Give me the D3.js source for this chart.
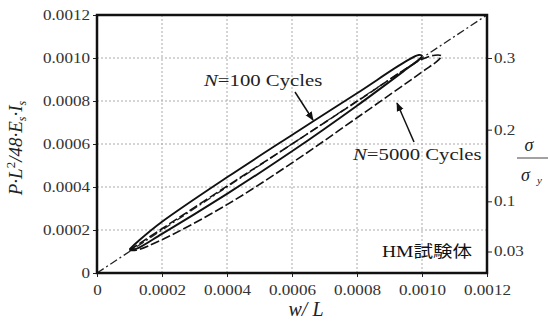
<!DOCTYPE html>
<html>
<head>
<meta charset="utf-8">
<script src="https://cdn.jsdelivr.net/npm/d3@7"></script>
<style>
  body { margin: 0; background: #fff; }
  text { font-family: "Liberation Serif", "Noto Sans CJK JP", serif; }
</style>
</head>
<body>
<div id="chart"></div>
<script>
// data
const xTicks = [0, 0.0002, 0.0004, 0.0006, 0.0008, 0.0010, 0.0012];
const yTicks = [0, 0.0002, 0.0004, 0.0006, 0.0008, 0.0010, 0.0012];
const ratioTicks = [0.03, 0.1, 0.2, 0.3];
const refLine = [[0, 0], [0.0012, 0.0012]];
// N=100 loop (solid): upper branch then lower branch back
const loop100 = [
  [0.0001, 0.00011], [0.00013, 0.000152], [0.0002, 0.000238], [0.0004, 0.000445],
  [0.0006, 0.000642], [0.0008, 0.000836], [0.00095, 0.000984], [0.00099, 0.001014],
  [0.001, 0.00101], [0.00099, 0.000992], [0.00095, 0.000946], [0.0008, 0.000778],
  [0.0006, 0.000566], [0.0004, 0.000368], [0.0002, 0.000182], [0.00012, 0.000112],
  [0.0001, 0.00011]
];
// N=5000 loop (dashed)
const loop5000 = [
  [0.0001, 0.000106], [0.0002, 0.000206], [0.0004, 0.000404], [0.0006, 0.0006],
  [0.0008, 0.000798], [0.001, 0.000994], [0.00104, 0.001013], [0.00106, 0.00101],
  [0.00105, 0.00099], [0.001, 0.000935], [0.0008, 0.000722], [0.0006, 0.000512],
  [0.0004, 0.000318], [0.0002, 0.000155], [0.00012, 0.000106], [0.0001, 0.000106]
];

const W = 550, H = 322;
const m = { top: 15, right: 63, bottom: 49, left: 97 };
const iw = W - m.left - m.right, ih = H - m.top - m.bottom;
const STRETCH = 1.22; // the source picture is widened horizontally

const svg = d3.select('#chart').append('svg').attr('width', W).attr('height', H);
const g = svg.append('g').attr('transform', `translate(${m.left},${m.top})`);

const x = d3.scaleLinear().domain([0, 0.0012]).range([0, iw]);
const y = d3.scaleLinear().domain([0, 0.0012]).range([ih, 0]);
const yr = d3.scaleLinear().domain([0, 0.36]).range([ih, 0]);

const fmt = d => d === 0 ? '0' : d3.format('.4f')(d);

function widen(sel) {
  sel.each(function () {
    const len = this.getComputedTextLength();
    d3.select(this).attr('textLength', len * STRETCH).attr('lengthAdjust', 'spacingAndGlyphs');
  });
}

// grid
g.selectAll('.gx').data(xTicks.slice(1, -1)).enter().append('line')
  .attr('x1', d => x(d)).attr('x2', d => x(d)).attr('y1', 0).attr('y2', ih)
  .attr('stroke', '#aaa').attr('stroke-width', 1).attr('stroke-dasharray', '2,2');
g.selectAll('.gy').data(yTicks.slice(1, -1)).enter().append('line')
  .attr('y1', d => y(d)).attr('y2', d => y(d)).attr('x1', 0).attr('x2', iw)
  .attr('stroke', '#aaa').attr('stroke-width', 1).attr('stroke-dasharray', '2,2');

// axes
const ax = g.append('g').attr('transform', `translate(0,${ih})`)
  .call(d3.axisBottom(x).tickValues(xTicks).tickFormat(fmt).tickSize(4).tickPadding(8));
const ay = g.append('g')
  .call(d3.axisLeft(y).tickValues(yTicks).tickFormat(fmt).tickSize(4).tickPadding(3));
const ar = g.append('g').attr('transform', `translate(${iw},0)`)
  .call(d3.axisRight(yr).tickValues(ratioTicks).tickFormat(d => String(d)).tickSize(5).tickPadding(2));
[ax, ay, ar].forEach(a => {
  a.attr('font-family', null);
  a.select('.domain').remove();
  a.selectAll('text').attr('font-size', 14).attr('fill', '#333')
    .style('font-family', '"Liberation Serif", serif');
  a.selectAll('line').attr('stroke', '#222');
});
[ax, ay, ar].forEach(a => widen(a.selectAll('text')));

// reference line
const line = d3.line().x(d => x(d[0])).y(d => y(d[1]));
g.append('path').datum(refLine).attr('d', line)
  .attr('fill', 'none').attr('stroke', '#222').attr('stroke-width', 1.3)
  .attr('stroke-dasharray', '8,3,2,3');

// loops
const curve = d3.line().x(d => x(d[0])).y(d => y(d[1])).curve(d3.curveCatmullRom);
g.append('path').datum(loop5000).attr('d', curve)
  .attr('fill', 'none').attr('stroke', '#111').attr('stroke-width', 1.6)
  .attr('stroke-dasharray', '9,3');
g.append('path').datum(loop100).attr('d', curve)
  .attr('fill', 'none').attr('stroke', '#111').attr('stroke-width', 1.9);

// frame
g.append('rect').attr('width', iw).attr('height', ih)
  .attr('fill', 'none').attr('stroke', '#111').attr('stroke-width', 2.5);

// arrows
svg.append('defs').append('marker').attr('id', 'ah')
  .attr('viewBox', '0 0 10 10').attr('refX', 9).attr('refY', 5)
  .attr('markerWidth', 9).attr('markerHeight', 9).attr('orient', 'auto')
  .attr('markerUnits', 'userSpaceOnUse')
  .append('path').attr('d', 'M0,1 L10,5 L0,9 Z').attr('fill', '#111');

svg.append('line').attr('x1', 295).attr('y1', 92).attr('x2', 313).attr('y2', 120)
  .attr('stroke', '#111').attr('stroke-width', 1.5).attr('marker-end', 'url(#ah)');
svg.append('line').attr('x1', 414).attr('y1', 142).attr('x2', 397).attr('y2', 103)
  .attr('stroke', '#111').attr('stroke-width', 1.5).attr('marker-end', 'url(#ah)');

// annotations
const t1 = svg.append('text').attr('x', 204).attr('y', 86).attr('font-size', 17).attr('fill', '#222');
t1.append('tspan').attr('font-style', 'italic').text('N');
t1.append('tspan').text('=100 Cycles');
const t2 = svg.append('text').attr('x', 353).attr('y', 160).attr('font-size', 17).attr('fill', '#222');
t2.append('tspan').attr('font-style', 'italic').text('N');
t2.append('tspan').text('=5000 Cycles');
widen(t1); widen(t2);

const hm = svg.append('text').attr('x', 382).attr('y', 257).attr('font-size', 16).attr('fill', '#111')
  .style('font-family', '"Liberation Serif", "Noto Sans CJK JP", serif').text('HM試験体');
widen(hm);

// x axis label
svg.append('text').attr('x', 306).attr('y', 316).attr('text-anchor', 'middle')
  .attr('font-size', 20).attr('font-style', 'italic').attr('fill', '#222').text('w/ L');

// y axis label
const yl = svg.append('text').attr('transform', 'translate(22,148) rotate(-90)')
  .attr('text-anchor', 'middle').attr('font-size', 19).attr('font-style', 'italic').attr('fill', '#222');
yl.append('tspan').text('P·L');
yl.append('tspan').attr('font-size', 13).attr('dy', -7).attr('font-style', 'normal').text('2');
yl.append('tspan').attr('dy', 7).text('/48·E');
yl.append('tspan').attr('font-size', 12).attr('dy', 4).text('s');
yl.append('tspan').attr('dy', -4).text('·I');
yl.append('tspan').attr('font-size', 12).attr('dy', 4).text('s');

// right label sigma / sigma_y
svg.append('text').attr('x', 529).attr('y', 151).attr('text-anchor', 'middle')
  .attr('font-size', 18).attr('font-style', 'italic').attr('fill', '#222').text('σ');
svg.append('line').attr('x1', 517).attr('x2', 548).attr('y1', 158).attr('y2', 158)
  .attr('stroke', '#444').attr('stroke-width', 1);
const sy = svg.append('text').attr('x', 521).attr('y', 181)
  .attr('font-size', 18).attr('font-style', 'italic').attr('fill', '#222');
sy.append('tspan').text('σ');
sy.append('tspan').attr('font-size', 11).attr('dx', 7).attr('dy', 3).text('y');
</script>
</body>
</html>
